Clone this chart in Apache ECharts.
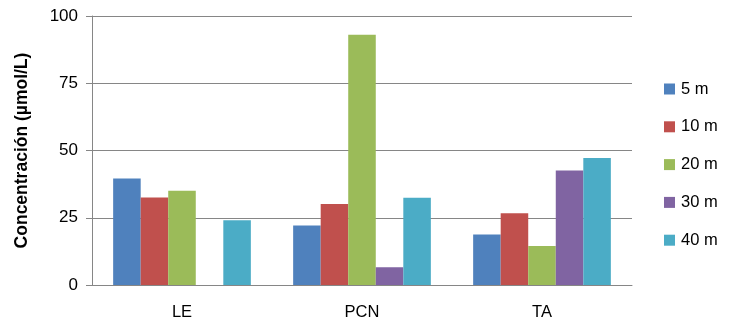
<!DOCTYPE html>
<html>
<head>
<meta charset="utf-8">
<script src="https://cdn.jsdelivr.net/npm/echarts@6/dist/echarts.min.js"></script>
<style>
  html, body { margin: 0; padding: 0; background: #fff; }
  #chart { width: 729px; height: 326px; }
</style>
</head>
<body>
<div id="chart"></div>
<script>
// Sampling sites and depths
const sites = ['LE', 'PCN', 'TA'];
const depthNames = ['5 m', '10 m', '20 m', '30 m', '40 m'];
const depthColors = ['#4F81BD', '#C0504D', '#9BBB59', '#8064A2', '#4BACC6'];

// Concentration (µmol/L) per depth, one value per site
const d5 = [39.6, 22.1, 18.8];
const d10 = [32.5, 30.1, 26.7];
const d20 = [35.0, 93.0, 14.5];
const d30 = [0, 6.6, 42.6];
const d40 = [24.1, 32.4, 47.2];
const depthValues = [d5, d10, d20, d30, d40];

// Y axis ticks
const yMin = 0, yMax = 100, yStep = 25;

const FONT = 'Liberation Sans';

const series = depthNames.map((name, i) => ({
  name,
  type: 'bar',
  data: depthValues[i],
  barGap: '0%',
  barCategoryGap: '23.5%',
  itemStyle: { color: depthColors[i] },
  emphasis: { disabled: true }
}));

const chart = echarts.init(document.getElementById('chart'), null, { renderer: 'canvas' });
chart.setOption({
  animation: false,
  textStyle: { fontFamily: FONT },
  grid: { left: 92, right: 97, top: 16, bottom: 41, containLabel: false },
  legend: {
    orient: 'vertical',
    left: 664,
    top: 80.5,
    padding: 0,
    itemWidth: 11,
    itemHeight: 11,
    itemGap: 20.8,
    icon: 'rect',
    textStyle: { fontFamily: FONT, fontSize: 16.5, lineHeight: 17, color: '#000', padding: [0, 0, 0, 1] },
    data: depthNames
  },
  xAxis: {
    type: 'category',
    data: sites,
    axisLine: { show: true, lineStyle: { color: '#868686', width: 1 } },
    axisTick: { show: false },
    axisLabel: { color: '#000', fontSize: 16.5, fontFamily: FONT, margin: 19 }
  },
  yAxis: {
    type: 'value',
    min: yMin,
    max: yMax,
    interval: yStep,
    name: 'Concentración (µmol/L)',
    nameLocation: 'middle',
    nameGap: 61,
    nameTextStyle: { fontFamily: FONT, fontSize: 17.5, fontWeight: 'bold', color: '#000' },
    axisLine: { show: true, lineStyle: { color: '#868686', width: 1 } },
    axisTick: { show: true, length: 6, inside: false, lineStyle: { color: '#868686' } },
    axisLabel: { color: '#000', fontSize: 17, fontFamily: FONT, margin: 14 },
    splitLine: { show: true, lineStyle: { color: '#868686', width: 1 } }
  },
  series
});
</script>
</body>
</html>
